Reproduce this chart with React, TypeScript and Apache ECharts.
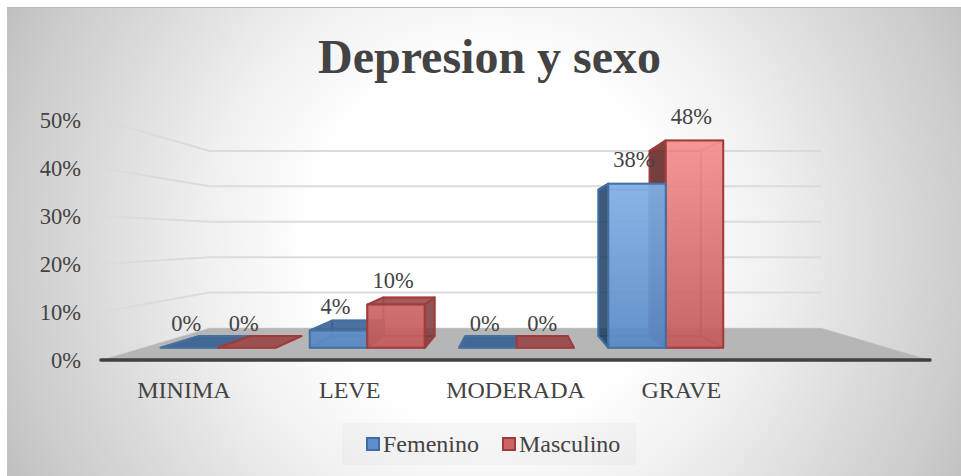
import React, { useEffect, useRef } from "react";
import * as echarts from "echarts";

const title = "Depresion y sexo";
const categories = ["MINIMA", "LEVE", "MODERADA", "GRAVE", ""];
const femenino = [0, 0.04, 0, 0.38];
const masculino = [0, 0.1, 0, 0.48];
const wallTicks = [0.1, 0.2, 0.3, 0.4, 0.5];
const femLabels = ["0%", "4%", "0%", "38%"];
const masLabels = ["0%", "10%", "0%", "48%"];

const FONT = '"Liberation Serif", "Times New Roman", serif';
const TEXT = "#434343";
const VP_Y = 238;
const FRONT_S = 0.9;
const REAR_S = 0.803;
const WALL_S = 0.738;
const BAR_FRAC = 0.385;
const BAR_SHIFT = 1;
const GRAD_TOP = 0.48;

type Palette = {
  stroke: string; strokeInner: string; top: string; left: string; right: string;
  inner: string; back: string; frontTop: string; frontBottom: string;
};
const blue: Palette = {
  stroke: "#44719f", strokeInner: "rgba(63,108,166,0.5)",
  top: "rgba(50,92,145,0.85)", left: "rgba(30,60,96,0.84)", right: "rgba(50,92,145,0.8)",
  inner: "rgba(70,120,185,0.10)", back: "rgba(70,120,185,0.12)",
  frontTop: "rgba(140,186,238,0.92)", frontBottom: "rgba(88,136,198,0.92)",
};
const red: Palette = {
  stroke: "#a13c3c", strokeInner: "rgba(161,58,58,0.45)",
  top: "rgba(150,66,66,0.86)", left: "rgba(92,30,30,0.84)", right: "rgba(122,52,52,0.82)",
  inner: "rgba(190,80,80,0.10)", back: "rgba(190,80,80,0.12)",
  frontTop: "rgba(246,144,144,0.92)", frontBottom: "rgba(194,90,90,0.92)",
};

function makeBar(side: number, pal: Palette, labels: string[]) {
  return (params: any, api: any) => {
    const cat = api.value(0);
    const val = api.value(1);
    const cs = params.coordSys;
    const vx = cs.x + cs.width / 2;
    const p = (x: number, y: number, s: number) => [vx + (x - vx) * s + BAR_SHIFT, VP_Y + (y - VP_Y) * s];
    const [cx, y0] = api.coord([cat, 0]);
    const y1 = api.coord([cat, val])[1];
    const yGradTop = api.coord([cat, GRAD_TOP])[1];
    const band = api.size([1, 0])[0];
    const w = band * BAR_FRAC;
    const xa = side < 0 ? cx - w : cx;
    const xb = side < 0 ? cx : cx + w;

    const fbl = p(xa, y0, FRONT_S), fbr = p(xb, y0, FRONT_S);
    const ftl = p(xa, y1, FRONT_S), ftr = p(xb, y1, FRONT_S);
    const rbl = p(xa, y0, REAR_S), rbr = p(xb, y0, REAR_S);
    const rtl = p(xa, y1, REAR_S), rtr = p(xb, y1, REAR_S);

    const z = 1000 - Math.abs((xa + xb) / 2 - vx);
    const poly = (pts: number[][], fill: any, stroke: string, dz: number, lw = 2) => ({
      type: "polygon",
      shape: { points: pts },
      style: { fill, stroke, lineWidth: lw, lineJoin: "round" },
      z2: z + dz,
      silent: true,
    });

    const leftOuter = rbl[0] < fbl[0];
    const rightOuter = rbr[0] > fbr[0];
    const topOuter = rtl[1] < ftl[1];

    const children: any[] = [];
    children.push(poly([rbl, rbr, fbr, fbl], pal.inner, pal.strokeInner, 0));
    if (val > 0) {
      children.push(poly([rtl, rtr, rbr, rbl], pal.back, pal.strokeInner, 0.1));
      children.push(poly([rtl, ftl, fbl, rbl], leftOuter ? pal.left : pal.inner, leftOuter ? pal.stroke : pal.strokeInner, 0.2));
      children.push(poly([rtr, ftr, fbr, rbr], rightOuter ? pal.right : pal.inner, rightOuter ? pal.stroke : pal.strokeInner, 0.2));
    }
    children.push(poly([rtl, rtr, ftr, ftl], topOuter || val === 0 ? pal.top : pal.inner, topOuter || val === 0 ? pal.stroke : pal.strokeInner, 0.3));
    if (val > 0) {
      const gradTop = p(xa, yGradTop, FRONT_S)[1];
      const fill = new echarts.graphic.LinearGradient(0, gradTop, 0, fbl[1], [
        { offset: 0, color: pal.frontTop },
        { offset: 1, color: pal.frontBottom },
      ], true);
      children.push(poly([ftl, ftr, fbr, fbl], fill, pal.stroke, 0.4));
    }
    children.push({
      type: "text",
      x: (ftl[0] + ftr[0]) / 2 - 3,
      y: ftl[1] - 24,
      z2: 3000,
      silent: true,
      style: {
        text: labels[params.dataIndex],
        fill: TEXT,
        font: `22.5px ${FONT}`,
        textAlign: "center",
        textVerticalAlign: "middle",
      },
    });
    return { type: "group", children };
  };
}

function renderFloor(params: any) {
  const cs = params.coordSys;
  const vx = cs.x + cs.width / 2;
  const yb = cs.y + cs.height;
  const p = (x: number, s: number) => [vx + (x - vx) * s, VP_Y + (yb - VP_Y) * s];
  return {
    type: "polygon",
    silent: true,
    shape: { points: [p(cs.x, 1), p(cs.x + cs.width, 1), p(cs.x + cs.width, WALL_S), p(cs.x, WALL_S)] },
    style: { fill: "#b6b6b6", stroke: "#cfcfcf", lineWidth: 0.5 },
  };
}

function renderWall(params: any, api: any) {
  const cs = params.coordSys;
  const vx = cs.x + cs.width / 2;
  const y = api.coord([0, api.value(1)])[1];
  const p = (x: number, s: number) => [vx + (x - vx) * s, VP_Y + (y - VP_Y) * s];
  return {
    type: "polyline",
    silent: true,
    shape: { points: [p(cs.x, 1), p(cs.x, WALL_S), p(cs.x + cs.width, WALL_S)] },
    style: { fill: "none", stroke: "#dbdbdb", lineWidth: 2 },
  };
}

export default function App() {
  const ref = useRef<HTMLDivElement>(null);
  useEffect(() => {
    const chart = echarts.init(ref.current!, undefined, { renderer: "svg" });
    chart.setOption({
      animation: false,
      title: {
        text: title,
        left: 318,
        top: 32,
        padding: 0,
        textStyle: { fontFamily: FONT, fontSize: 48, fontWeight: "bold", color: TEXT },
      },
      grid: { left: 101, right: 31, top: 120, bottom: 116, containLabel: false },
      xAxis: {
        type: "category",
        data: categories,
        z: 3,
        axisTick: { show: false },
        axisLine: { show: true, lineStyle: { color: "#404040", width: 3.5, cap: "round" } },
        axisLabel: { interval: 0, margin: 18, fontFamily: FONT, fontSize: 24, color: TEXT },
        splitLine: { show: false },
      },
      yAxis: {
        type: "value",
        min: 0,
        max: 0.5,
        interval: 0.1,
        axisLine: { show: false },
        axisTick: { show: false },
        splitLine: { show: false },
        axisLabel: {
          margin: 20,
          fontFamily: FONT,
          fontSize: 22.5,
          color: TEXT,
          formatter: (v: number) => `${Math.round(v * 100)}%`,
        },
      },
      legend: {
        left: 342,
        top: 423,
        padding: [9, 16, 9, 24],
        itemGap: 23,
        itemWidth: 12,
        itemHeight: 12,
        backgroundColor: "rgba(200,200,200,0.12)",
        selectedMode: false,
        textStyle: { fontFamily: FONT, fontSize: 24, color: TEXT, padding: [0, 0, 0, -1] },
        data: [
          { name: "Femenino", icon: "rect", itemStyle: { color: "#5f8fcb", borderColor: "#3f6ca6", borderWidth: 2 } },
          { name: "Masculino", icon: "rect", itemStyle: { color: "#c96565", borderColor: "#a13a3a", borderWidth: 2 } },
        ],
      },
      series: [
        { type: "custom", name: "Piso", silent: true, z: 1, renderItem: renderFloor, data: [[0, 0]], encode: { x: 0, y: 1 } },
        { type: "custom", name: "Rejilla", silent: true, z: 1, renderItem: renderWall, data: wallTicks.map((t) => [0, t]), encode: { x: 0, y: 1 } },
        { type: "custom", name: "Femenino", silent: true, z: 5, renderItem: makeBar(-1, blue, femLabels), data: femenino.map((v, i) => [i, v]), encode: { x: 0, y: 1 }, itemStyle: { color: "#5f8fcb" } },
        { type: "custom", name: "Masculino", silent: true, z: 5, renderItem: makeBar(1, red, masLabels), data: masculino.map((v, i) => [i, v]), encode: { x: 0, y: 1 }, itemStyle: { color: "#c96565" } },
      ],
    });
    return () => chart.dispose();
  }, []);
  return (
    <div style={{ position: "fixed", left: 0, top: 0, width: 961, height: 476, background: "#fff", overflow: "hidden" }}>
      <div
        style={{
          position: "absolute",
          left: 7,
          top: 7,
          width: 954,
          height: 469,
          boxSizing: "border-box",
          borderTop: "1px solid #b9b9b9",
          background:
            "radial-gradient(circle at 483px 233px, #ffffff 180px, #efefef 290px, #dcdcdc 390px, #cccccc 480px, #bfbfbf 540px)",
        }}
      />
      <div ref={ref} style={{ position: "absolute", left: 0, top: 0, width: 961, height: 476 }} />
    </div>
  );
}
